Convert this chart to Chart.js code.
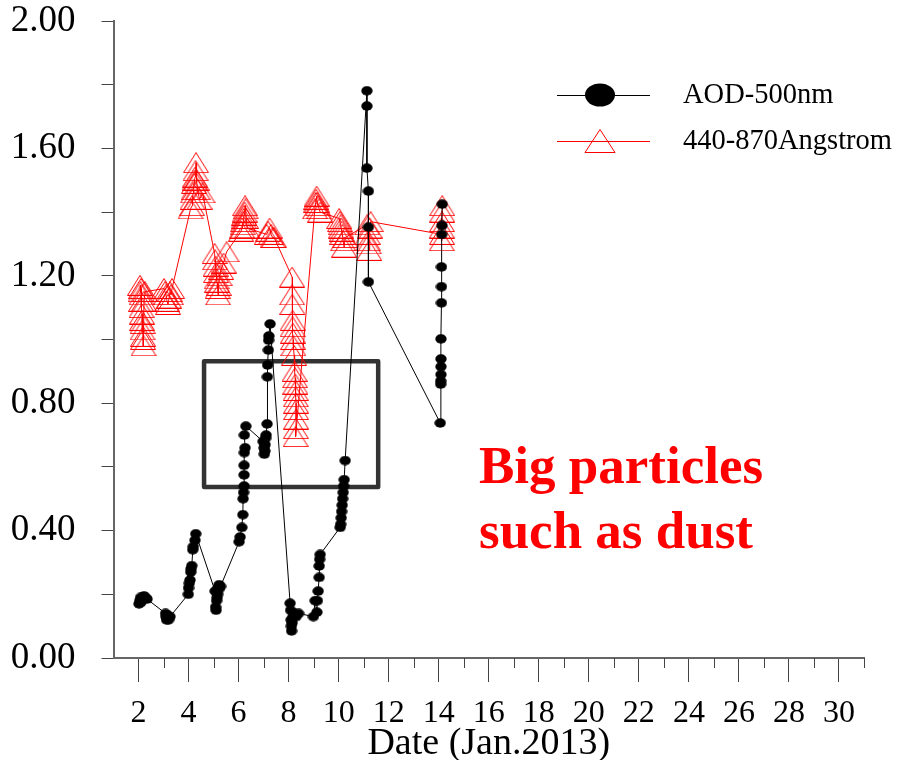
<!DOCTYPE html>
<html>
<head>
<meta charset="utf-8">
<script src="https://cdn.jsdelivr.net/npm/chart.js@4/dist/chart.umd.min.js"></script>
<style>
  html, body { margin: 0; padding: 0; background: #fff; }
  #wrap { position: relative; width: 898px; height: 760px; }
  #note {
    position: absolute; left: 479px; top: 433px;
    color: #ff0000; font: bold 53px "Liberation Serif", "Times New Roman", serif;
    line-height: 65px; white-space: nowrap;
  }
</style>
</head>
<body>
<div id="wrap">
  <canvas id="chart" width="898" height="760"></canvas>
  <div id="note">Big particles<br>such as dust</div>
</div>
<script>
// AOD at 500 nm (black dots), day of January 2013
const aodDays = [
  2.02, 2.05, 2.08, 2.10, 2.14, 2.18, 2.22, 2.28, 2.34,
  3.08, 3.10, 3.12, 3.14, 3.16, 3.20, 3.26,
  3.99, 4.00, 4.03, 4.06, 4.09, 4.10, 4.13, 4.17, 4.19, 4.26, 4.29,
  5.06, 5.08, 5.10, 5.12, 5.14, 5.16, 5.18, 5.20, 5.22, 5.28,
  6.02, 6.06, 6.13, 6.17, 6.18, 6.20, 6.22, 6.22, 6.22, 6.23, 6.26, 6.23, 6.29,
  6.98, 7.02, 7.03, 7.05, 7.06, 7.08, 7.10, 7.14, 7.15, 7.16, 7.19, 7.20, 7.21, 7.26,
  8.06, 8.08, 8.10, 8.11, 8.12, 8.14, 8.18, 8.22, 8.30, 8.40,
  8.99, 9.06, 9.13, 9.15, 9.18, 9.22, 9.22, 9.24, 9.26,
  10.06, 10.08, 10.10, 10.12, 10.14, 10.16, 10.18, 10.20, 10.22, 10.26,
  11.13, 11.13, 11.13, 11.19, 11.19, 11.19,
  14.06, 14.08, 14.08, 14.09, 14.09, 14.09, 14.09, 14.11, 14.11, 14.11, 14.12, 14.13, 14.14
];
const aodValues = [
  0.17, 0.18, 0.19, 0.175, 0.185, 0.19, 0.195, 0.19, 0.185,
  0.14, 0.13, 0.12, 0.125, 0.135, 0.12, 0.13,
  0.20, 0.22, 0.235, 0.245, 0.27, 0.28, 0.29, 0.34, 0.35, 0.37, 0.39,
  0.21, 0.16, 0.15, 0.18, 0.19, 0.20, 0.22, 0.215, 0.23, 0.225,
  0.365, 0.38, 0.41, 0.45, 0.50, 0.52, 0.54, 0.575, 0.605, 0.645, 0.66, 0.70, 0.728,
  0.68, 0.66, 0.64, 0.65, 0.67, 0.69, 0.70, 0.735, 0.883, 0.92, 0.967, 0.998, 1.011, 1.049,
  0.172, 0.15, 0.12, 0.10, 0.085, 0.11, 0.13, 0.14, 0.13, 0.14,
  0.13, 0.18, 0.144, 0.18, 0.21, 0.253, 0.289, 0.31, 0.325,
  0.41, 0.42, 0.44, 0.46, 0.48, 0.50, 0.52, 0.54, 0.56, 0.62,
  1.781, 1.733, 1.538, 1.466, 1.353, 1.181,
  0.738, 0.86, 0.87, 0.89, 0.915, 0.939, 1.002, 1.115, 1.166, 1.228, 1.33, 1.358, 1.425
];

// 440-870 nm Angstrom exponent (red triangles)
const angDays = [
  2.06, 2.08, 2.10, 2.12, 2.10, 2.12, 2.14, 2.14, 2.16, 2.16, 2.18, 2.18, 2.20, 2.22, 2.26,
  3.02, 3.06, 3.10, 3.14, 3.18, 3.22, 3.26, 3.30, 3.34,
  4.08, 4.14, 4.16, 4.18, 4.20, 4.22, 4.24, 4.26, 4.28, 4.30, 4.32, 4.36, 4.44, 4.56,
  5.04, 5.06, 5.08, 5.10, 5.12, 5.14, 5.16, 5.18, 5.20, 5.24, 5.30, 5.40, 5.52,
  6.10, 6.14, 6.16, 6.18, 6.20, 6.22, 6.24, 6.26, 6.28, 6.30, 6.34,
  7.12, 7.18, 7.24, 7.30, 7.36, 7.42,
  8.14, 8.14, 8.15, 8.16, 8.16, 8.17, 8.18, 8.19, 8.22, 8.24, 8.26, 8.27, 8.28, 8.29, 8.30, 8.30, 8.30, 8.29, 8.28,
  9.05, 9.08, 9.10, 9.12, 9.14, 9.18, 9.22, 9.26,
  10.02, 10.05, 10.08, 10.10, 10.12, 10.15, 10.18, 10.22, 10.26,
  11.14, 11.16, 11.18, 11.20, 11.22, 11.24, 11.28,
  14.13, 14.12, 14.12, 14.13, 14.14, 14.14
];
const angValues = [
  1.17, 1.15, 1.16, 1.14, 1.12, 1.10, 1.08, 1.06, 1.05, 1.03, 1.01, 1.00, 0.98, 1.12, 1.15,
  1.16, 1.15, 1.14, 1.12, 1.11, 1.13, 1.15, 1.14, 1.16,
  1.41, 1.42, 1.44, 1.46, 1.47, 1.49, 1.50, 1.51, 1.53, 1.555, 1.50, 1.47, 1.44, 1.46,
  1.27, 1.25, 1.23, 1.21, 1.19, 1.18, 1.16, 1.14, 1.17, 1.20, 1.22, 1.24, 1.275,
  1.34, 1.35, 1.36, 1.37, 1.38, 1.39, 1.40, 1.42, 1.41, 1.38, 1.35,
  1.33, 1.34, 1.35, 1.33, 1.32, 1.32,
  1.196, 1.14, 1.11, 1.06, 1.04, 1.02, 1.00, 0.98, 0.95, 0.90, 0.88, 0.86, 0.84, 0.82, 0.80, 0.78, 0.75, 0.72, 0.695,
  1.41, 1.43, 1.44, 1.45, 1.43, 1.42, 1.41, 1.40,
  1.38, 1.37, 1.36, 1.35, 1.34, 1.33, 1.31, 1.29, 1.32,
  1.36, 1.33, 1.31, 1.30, 1.28, 1.35, 1.37,
  1.33, 1.31, 1.35, 1.37, 1.40, 1.42
];

const seriesNames = ['AOD-500nm', '440-870Angstrom'];
const xLabelEvery = 2;     // x labels on even days
const yLabelEvery = 0.4;   // y labels every 0.40

Chart.defaults.font.family = '"Liberation Serif", "Times New Roman", serif';
Chart.defaults.color = '#000';

function makeDot(w, h) {
  const c = document.createElement('canvas');
  c.width = w; c.height = h;
  const g = c.getContext('2d');
  g.fillStyle = '#000';
  g.beginPath();
  g.ellipse(w / 2, h / 2, w / 2 - 0.3, h / 2 - 0.3, 0, 0, Math.PI * 2);
  g.fill();
  return c;
}

function makeTri(w, h) {
  const c = document.createElement('canvas');
  c.width = w; c.height = h;
  const g = c.getContext('2d');
  g.strokeStyle = '#ff0000';
  g.lineWidth = 1;
  g.beginPath();
  g.moveTo(w / 2, 0.5);
  g.lineTo(w - 0.5, h - 0.5);
  g.lineTo(0.5, h - 0.5);
  g.closePath();
  g.stroke();
  return c;
}

const dotImg = makeDot(12, 10);
const triImg = makeTri(26, 21);

const extras = {
  id: 'extras',
  beforeDatasetsDraw(chart) {
    const { ctx, scales: { x, y } } = chart;
    // highlighted box
    const x0 = x.getPixelForValue(4.62), x1 = x.getPixelForValue(11.58);
    const y0 = y.getPixelForValue(0.932), y1 = y.getPixelForValue(0.537);
    ctx.save();
    ctx.strokeStyle = '#333';
    ctx.lineWidth = 4.5;
    ctx.lineJoin = 'round';
    ctx.strokeRect(x0, y0, x1 - x0, y1 - y0);
    ctx.restore();
  },
  afterDraw(chart) {
    const { ctx, scales: { x } } = chart;
    const base = chart.chartArea.bottom;
    ctx.save();
    // minor ticks on odd days
    ctx.strokeStyle = '#444';
    ctx.lineWidth = 1;
    for (let d = 3; d <= 31; d += 2) {
      const px = Math.round(x.getPixelForValue(d)) + 0.5;
      ctx.beginPath();
      ctx.moveTo(px, base);
      ctx.lineTo(px, base + 10);
      ctx.stroke();
    }
    // legend
    ctx.lineWidth = 1;
    ctx.strokeStyle = '#000';
    ctx.beginPath(); ctx.moveTo(557, 95.5); ctx.lineTo(650, 95.5); ctx.stroke();
    ctx.fillStyle = '#000';
    ctx.beginPath(); ctx.ellipse(600, 95, 15, 11.5, 0, 0, Math.PI * 2); ctx.fill();
    ctx.strokeStyle = '#ff0000';
    ctx.beginPath(); ctx.moveTo(557, 141.5); ctx.lineTo(650, 141.5); ctx.stroke();
    ctx.beginPath();
    ctx.moveTo(600, 129.5); ctx.lineTo(615, 152.5); ctx.lineTo(585, 152.5); ctx.closePath();
    ctx.stroke();
    ctx.fillStyle = '#000';
    ctx.font = '28.5px "Liberation Serif", "Times New Roman", serif';
    ctx.textBaseline = 'middle';
    ctx.fillText(seriesNames[0], 683, 96);
    ctx.fillText(seriesNames[1], 683, 142);
    ctx.restore();
  }
};

new Chart(document.getElementById('chart'), {
  type: 'scatter',
  data: {
    datasets: [
      {
        label: seriesNames[0],
        data: aodDays.map((d, i) => ({ x: d, y: aodValues[i] })),
        showLine: true,
        borderColor: '#000',
        borderWidth: 1,
        backgroundColor: '#000',
        pointStyle: dotImg,
        pointRadius: 6,
        order: 0
      },
      {
        label: seriesNames[1],
        data: angDays.map((d, i) => ({ x: d, y: angValues[i] })),
        showLine: true,
        borderColor: '#ff0000',
        borderWidth: 1,
        backgroundColor: '#ff0000',
        pointStyle: triImg,
        pointRadius: 12,
        order: 1
      }
    ]
  },
  options: {
    responsive: false,
    animation: false,
    events: [],
    layout: { padding: { left: 0, top: 21, right: 34, bottom: 0 } },
    plugins: { legend: { display: false }, tooltip: { enabled: false } },
    scales: {
      x: {
        type: 'linear',
        min: 1,
        max: 31,
        afterFit(scale) { scale.height = 102; },
        border: { color: '#666', width: 2 },
        grid: {
          drawOnChartArea: false,
          tickLength: 24,
          tickWidth: 1,
          tickColor: ctx => (ctx.tick && ctx.tick.value % xLabelEvery === 0) ? '#444' : 'rgba(0,0,0,0)'
        },
        ticks: {
          stepSize: 1,
          autoSkip: false,
          maxRotation: 0,
          padding: 12,
          font: { size: 32 },
          callback: v => (v % xLabelEvery === 0 ? String(v) : '')
        },
        title: {
          display: true,
          text: 'Date (Jan.2013)',
          font: { size: 38, lineHeight: 1 },
          padding: { top: 0, bottom: -3 }
        }
      },
      y: {
        min: 0,
        max: 2,
        afterFit(scale) {
          scale.width = 113.5;
          scale.paddingTop = 0;
          scale.paddingBottom = 0;
        },
        border: { color: '#666', width: 2 },
        grid: {
          drawOnChartArea: false,
          tickLength: 12,
          tickWidth: 1,
          tickColor: '#444'
        },
        ticks: {
          stepSize: 0.2,
          padding: 26,
          font: { size: 37 },
          callback: v => (Math.round(v * 10) % Math.round(yLabelEvery * 10) === 0 ? v.toFixed(2) : '')
        }
      }
    }
  },
  plugins: [extras]
});
</script>
</body>
</html>
